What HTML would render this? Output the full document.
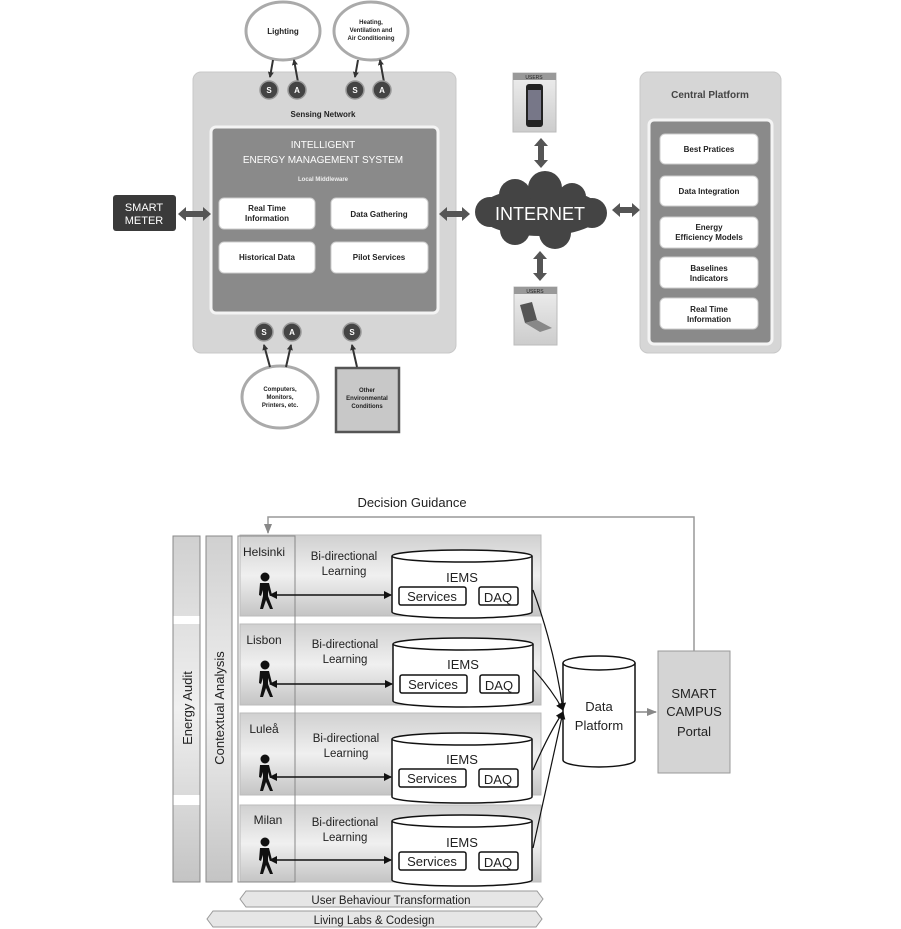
<!DOCTYPE html>
<html><head><meta charset="utf-8"><style>
html,body{margin:0;padding:0;background:#fff;}
svg{display:block;font-family:"Liberation Sans",sans-serif;}
.b{font-weight:bold;font-size:8px;fill:#222;text-anchor:middle}
.t{font-size:12px;fill:#222;text-anchor:middle}
</style></head><body>
<svg width="901" height="929" viewBox="0 0 901 929" xmlns="http://www.w3.org/2000/svg">
<defs>
<marker id="ah" markerWidth="8" markerHeight="8" refX="7" refY="4" orient="auto-start-reverse" markerUnits="userSpaceOnUse"><path d="M0,0 L8,4 L0,8 z" fill="#111"/></marker>
<marker id="ag" markerWidth="10" markerHeight="10" refX="9" refY="5" orient="auto" markerUnits="userSpaceOnUse"><path d="M0,1 L10,5 L0,9 z" fill="#888"/></marker>
<marker id="as" markerWidth="6" markerHeight="6" refX="5" refY="3" orient="auto" markerUnits="userSpaceOnUse"><path d="M0,0 L6,3 L0,6 z" fill="#333"/></marker>
<linearGradient id="gg" x1="0" y1="0" x2="0" y2="1"><stop offset="0" stop-color="#eee"/><stop offset="1" stop-color="#ccc"/></linearGradient>
<linearGradient id="rg" x1="0" y1="0" x2="0" y2="1"><stop offset="0" stop-color="#d0d0d0"/><stop offset="0.5" stop-color="#f0f0f0"/><stop offset="1" stop-color="#c4c4c4"/></linearGradient>
</defs>

<!-- TOP DIAGRAM -->
<rect x="193" y="72" width="263" height="281" rx="8" fill="#d6d6d6" stroke="#c8c8c8"/>
<text x="323" y="117" class="b" fill="#444">Sensing Network</text>
<rect x="211" y="127" width="227" height="186" rx="5" fill="#8a8a8a" stroke="#f4f4f4" stroke-width="3"/>
<text x="323" y="148" style="font-size:10px;fill:#fff;text-anchor:middle;font-family:'Liberation Sans Narrow','Liberation Sans',sans-serif">INTELLIGENT</text>
<text x="323" y="163" style="font-size:10px;fill:#fff;text-anchor:middle;font-family:'Liberation Sans Narrow','Liberation Sans',sans-serif">ENERGY MANAGEMENT SYSTEM</text>
<text x="323" y="181" style="font-size:6px;fill:#eee;text-anchor:middle;font-weight:bold">Local Middleware</text>
<g fill="#fff" stroke="#ccc">
<rect x="219" y="198" width="96" height="31" rx="5"/>
<rect x="331" y="198" width="97" height="31" rx="5"/>
<rect x="219" y="242" width="96" height="31" rx="5"/>
<rect x="331" y="242" width="97" height="31" rx="5"/>
</g>
<text x="267" y="211" class="b">Real Time</text><text x="267" y="221" class="b">Information</text>
<text x="379" y="217" class="b">Data Gathering</text>
<text x="267" y="260" class="b">Historical Data</text>
<text x="379" y="260" class="b">Pilot Services</text>

<g fill="#fff" stroke="#aaa" stroke-width="3">
<ellipse cx="283" cy="31" rx="37" ry="29"/>
<ellipse cx="371" cy="31" rx="37" ry="29"/>
<ellipse cx="280" cy="397" rx="38" ry="31"/>
</g>
<rect x="336" y="368" width="63" height="64" fill="#c8c8c8" stroke="#555" stroke-width="2.5"/>
<text x="283" y="34" class="b">Lighting</text>
<text x="371" y="24" class="b" style="font-size:6px">Heating,</text>
<text x="371" y="32" class="b" style="font-size:6px">Ventilation and</text>
<text x="371" y="40" class="b" style="font-size:6px">Air Conditioning</text>
<text x="280" y="391" class="b" style="font-size:6px">Computers,</text>
<text x="280" y="399" class="b" style="font-size:6px">Monitors,</text>
<text x="280" y="407" class="b" style="font-size:6px">Printers, etc.</text>
<text x="367" y="392" class="b" style="font-size:6px">Other</text>
<text x="367" y="400" class="b" style="font-size:6px">Environmental</text>
<text x="367" y="408" class="b" style="font-size:6px">Conditions</text>
<g stroke="#333" stroke-width="2">
<line x1="273" y1="60" x2="270" y2="77" marker-end="url(#as)"/>
<line x1="298" y1="82" x2="294" y2="60" marker-end="url(#as)"/>
<line x1="358" y1="60" x2="355" y2="77" marker-end="url(#as)"/>
<line x1="384" y1="82" x2="380" y2="60" marker-end="url(#as)"/>
<line x1="270" y1="367" x2="264" y2="345" marker-end="url(#as)"/>
<line x1="286" y1="367" x2="291" y2="345" marker-end="url(#as)"/>
<line x1="357" y1="367" x2="352" y2="345" marker-end="url(#as)"/>
</g>
<g fill="#444" stroke="#999" stroke-width="1.5">
<circle cx="269" cy="90" r="9"/><circle cx="297" cy="90" r="9"/>
<circle cx="355" cy="90" r="9"/><circle cx="382" cy="90" r="9"/>
<circle cx="264" cy="332" r="9"/><circle cx="292" cy="332" r="9"/>
<circle cx="352" cy="332" r="9"/>
</g>
<g font-size="8" font-weight="bold" fill="#fff" text-anchor="middle">
<text x="269" y="93">S</text><text x="297" y="93">A</text><text x="355" y="93">S</text><text x="382" y="93">A</text>
<text x="264" y="335">S</text><text x="292" y="335">A</text><text x="352" y="335">S</text>
</g>
<rect x="113" y="195" width="63" height="36" rx="3" fill="#3a3a3a"/>
<text x="144" y="211" style="font-size:11px;fill:#fff;text-anchor:middle;font-family:'Liberation Sans Narrow',sans-serif">SMART</text>
<text x="144" y="224" style="font-size:11px;fill:#fff;text-anchor:middle;font-family:'Liberation Sans Narrow',sans-serif">METER</text>
<g fill="#555">
<path d="M178,214 l8,-7 v4 h17 v-4 l8,7 l-8,7 v-4 h-17 v4 z"/>
<path d="M439,214 l8,-7 v4 h15 v-4 l8,7 l-8,7 v-4 h-15 v4 z"/>
<path d="M612,210 l8,-7 v4 h12 v-4 l8,7 l-8,7 v-4 h-12 v4 z"/>
<path d="M541,138 l7,8 h-4 v14 h4 l-7,8 l-7,-8 h4 v-14 h-4 z"/>
<path d="M540,251 l7,8 h-4 v14 h4 l-7,8 l-7,-8 h4 v-14 h-4 z"/>
</g>
<g fill="#444">
<ellipse cx="540" cy="212" rx="62" ry="24"/>
<circle cx="515" cy="195" r="16"/><circle cx="545" cy="188" r="17"/><circle cx="572" cy="197" r="14"/>
<circle cx="490" cy="212" r="15"/><circle cx="592" cy="213" r="15"/>
<circle cx="515" cy="230" r="15"/><circle cx="555" cy="233" r="16"/>
</g>
<text x="540" y="220" style="font-size:18px;fill:#fff;text-anchor:middle;font-family:'Liberation Sans Narrow',sans-serif">INTERNET</text>
<rect x="513" y="73" width="43" height="59" fill="url(#gg)" stroke="#bbb"/>
<rect x="513" y="73" width="43" height="7" fill="#999"/>
<text x="534" y="79" style="font-size:5px;fill:#222;text-anchor:middle">USERS</text>
<rect x="526" y="84" width="17" height="43" rx="3" fill="#222"/>
<rect x="528" y="90" width="13" height="30" fill="#778"/>
<rect x="514" y="287" width="43" height="58" fill="url(#gg)" stroke="#bbb"/>
<rect x="514" y="287" width="43" height="7" fill="#999"/>
<text x="535" y="293" style="font-size:5px;fill:#222;text-anchor:middle">USERS</text>
<path d="M520,305 l12,-3 l5,18 l-12,3 z" fill="#555"/>
<path d="M525,323 l12,-3 l15,8 l-12,4 z" fill="#888"/>
<rect x="640" y="72" width="141" height="281" rx="8" fill="#d6d6d6" stroke="#c8c8c8"/>
<text x="710" y="98" class="b" style="font-size:10px;fill:#444">Central Platform</text>
<rect x="649" y="120" width="123" height="224" rx="5" fill="#8a8a8a" stroke="#f4f4f4" stroke-width="3"/>
<g fill="#fff" stroke="#ccc">
<rect x="660" y="134" width="98" height="30" rx="5"/>
<rect x="660" y="176" width="98" height="30" rx="5"/>
<rect x="660" y="217" width="98" height="31" rx="5"/>
<rect x="660" y="257" width="98" height="31" rx="5"/>
<rect x="660" y="298" width="98" height="31" rx="5"/>
</g>
<text x="709" y="152" class="b">Best Pratices</text>
<text x="709" y="194" class="b">Data Integration</text>
<text x="709" y="230" class="b">Energy</text><text x="709" y="240" class="b">Efficiency Models</text>
<text x="709" y="271" class="b">Baselines</text><text x="709" y="281" class="b">Indicators</text>
<text x="709" y="312" class="b">Real Time</text><text x="709" y="322" class="b">Information</text>

<!-- BOTTOM DIAGRAM -->
<text x="412" y="507" class="t" style="font-size:13px">Decision Guidance</text>
<polyline points="694,651 694,517 268,517 268,533" fill="none" stroke="#999" stroke-width="1.5" marker-end="url(#ag)"/>
<g fill="url(#rg)" stroke="#bbb">
<rect x="240" y="535" width="301" height="81"/>
<rect x="240" y="624" width="301" height="81"/>
<rect x="240" y="713" width="301" height="82"/>
<rect x="240" y="805" width="301" height="77"/>
<rect x="173" y="536" width="27" height="346"/>
<rect x="206" y="536" width="26" height="346"/>
</g>
<rect x="173" y="616" width="27" height="8" fill="#fff"/>
<rect x="173" y="795" width="27" height="10" fill="#fff"/>
<rect x="238" y="536" width="57" height="346" fill="none" stroke="#888"/>
<rect x="173" y="536" width="27" height="346" fill="none" stroke="#888"/>
<rect x="206" y="536" width="26" height="346" fill="none" stroke="#888"/>
<text transform="translate(192,708) rotate(-90)" class="t" style="font-size:13px">Energy Audit</text>
<text transform="translate(224,708) rotate(-90)" class="t" style="font-size:13px">Contextual Analysis</text>
<g class="t">
<text x="264" y="556">Helsinki</text>
<text x="264" y="644">Lisbon</text>
<text x="264" y="733">Luleå</text>
<text x="268" y="824">Milan</text>
</g>
<g class="t" style="font-size:11.5px">
<text x="344" y="560">Bi-directional</text><text x="344" y="575">Learning</text>
<text x="345" y="648">Bi-directional</text><text x="345" y="663">Learning</text>
<text x="346" y="742">Bi-directional</text><text x="346" y="757">Learning</text>
<text x="345" y="826">Bi-directional</text><text x="345" y="841">Learning</text>
</g>
<g fill="#fff" stroke="#111" stroke-width="1.5">
<path d="M392,556 v56 a70,6 0 0 0 140,0 v-56"/><ellipse cx="462" cy="556" rx="70" ry="6"/>
<path d="M393,644 v57 a70,6 0 0 0 140,0 v-57"/><ellipse cx="463" cy="644" rx="70" ry="6"/>
<path d="M392,739 v58 a70,6 0 0 0 140,0 v-58"/><ellipse cx="462" cy="739" rx="70" ry="6"/>
<path d="M392,821 v59 a70,6 0 0 0 140,0 v-59"/><ellipse cx="462" cy="821" rx="70" ry="6"/>
<path d="M563,663 v97 a36,7 0 0 0 72,0 v-97"/><ellipse cx="599" cy="663" rx="36" ry="7"/>
</g>
<g fill="#fff" stroke="#111" stroke-width="1.5">
<rect x="399" y="587" width="67" height="18" rx="2"/><rect x="479" y="587" width="39" height="18" rx="2"/>
<rect x="400" y="675" width="67" height="18" rx="2"/><rect x="480" y="675" width="39" height="18" rx="2"/>
<rect x="399" y="769" width="67" height="18" rx="2"/><rect x="479" y="769" width="39" height="18" rx="2"/>
<rect x="399" y="852" width="67" height="18" rx="2"/><rect x="479" y="852" width="39" height="18" rx="2"/>
</g>
<g class="t" style="font-size:13px">
<text x="462" y="582">IEMS</text><text x="463" y="669">IEMS</text><text x="462" y="764">IEMS</text><text x="462" y="847">IEMS</text>
<text x="432" y="601">Services</text><text x="498" y="602">DAQ</text>
<text x="433" y="689">Services</text><text x="499" y="690">DAQ</text>
<text x="432" y="783">Services</text><text x="498" y="784">DAQ</text>
<text x="432" y="866">Services</text><text x="498" y="867">DAQ</text>
<text x="599" y="711">Data</text><text x="599" y="730">Platform</text>
</g>
<g fill="#111">
<g id="p"><circle cx="265" cy="577" r="4.5"/><path d="M260,583 h9 l3,12 l-2,1 l-2,-6 v6 l5,13 h-3 l-4,-9 l-3,9 h-3 l3,-13 v-6 l-2,6 l-2,-1 z"/></g>
<use href="#p" y="88"/><use href="#p" y="182"/><use href="#p" y="265"/>
</g>
<g stroke="#111" stroke-width="1.5">
<line x1="270" y1="595" x2="391" y2="595" marker-start="url(#ah)" marker-end="url(#ah)"/>
<line x1="270" y1="684" x2="392" y2="684" marker-start="url(#ah)" marker-end="url(#ah)"/>
<line x1="270" y1="777" x2="391" y2="777" marker-start="url(#ah)" marker-end="url(#ah)"/>
<line x1="270" y1="860" x2="391" y2="860" marker-start="url(#ah)" marker-end="url(#ah)"/>
</g>
<g stroke="#111" stroke-width="1.2" fill="none">
<path d="M533,590 Q555,650 563,710" marker-end="url(#ah)"/>
<path d="M534,670 Q552,690 563,710" marker-end="url(#ah)"/>
<path d="M533,770 Q548,735 563,712" marker-end="url(#ah)"/>
<path d="M533,848 Q550,770 563,712" marker-end="url(#ah)"/>
</g>
<line x1="636" y1="712" x2="656" y2="712" stroke="#888" stroke-width="1.5" marker-end="url(#ag)"/>
<rect x="658" y="651" width="72" height="122" fill="#d4d4d4" stroke="#999"/>
<g class="t" style="font-size:13px"><text x="694" y="698">SMART</text><text x="694" y="716">CAMPUS</text><text x="694" y="736">Portal</text></g>
<path d="M246,891 H537 L543,899 L537,907 H246 L240,899 Z" fill="#e6e6e6" stroke="#999"/>
<text x="391" y="904" class="t" style="font-size:11.5px">User Behaviour Transformation</text>
<path d="M213,911 H536 L542,919 L536,927 H213 L207,919 Z" fill="#e6e6e6" stroke="#999"/>
<text x="374" y="924" class="t" style="font-size:11.5px">Living Labs &amp; Codesign</text>
</svg>
</body></html>
